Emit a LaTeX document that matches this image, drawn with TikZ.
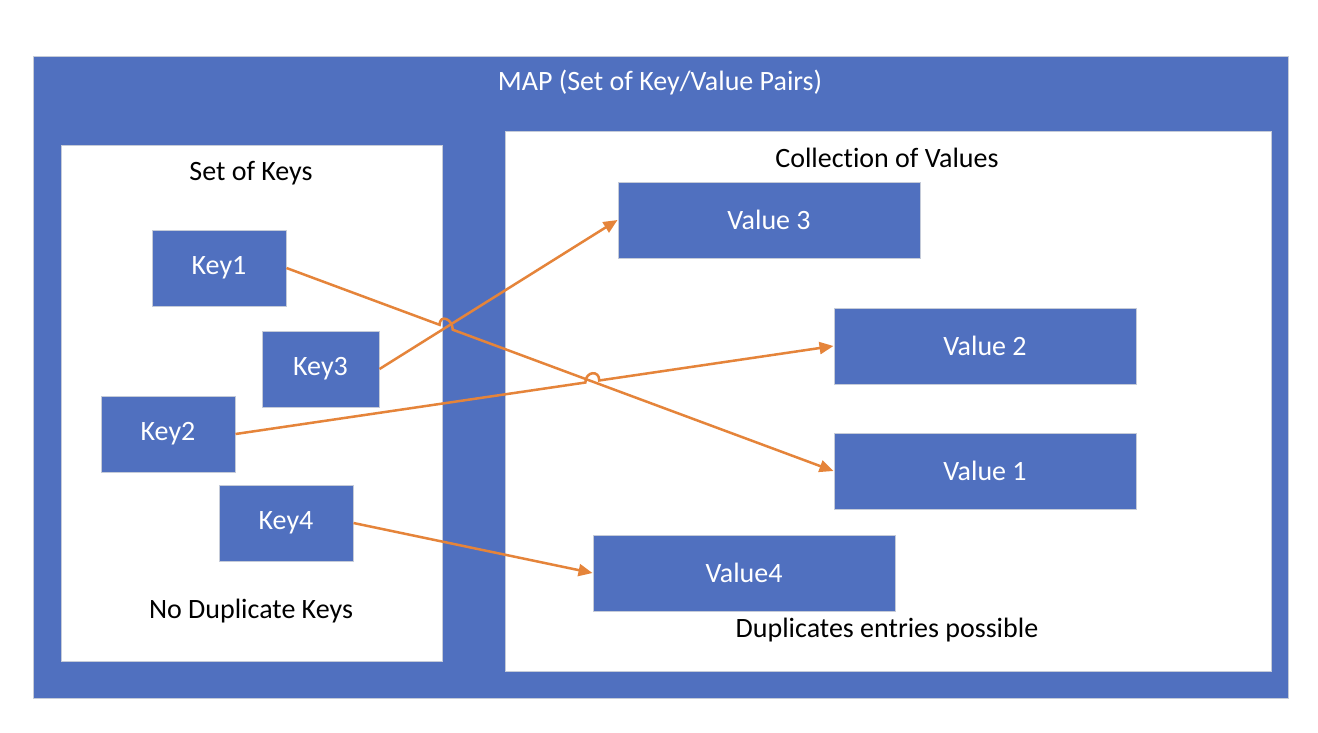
\documentclass[tikz,border=0pt]{standalone}
\usepackage{fontspec}
\setmainfont{Carlito}[Ligatures=NoCommon]
\usetikzlibrary{arrows.meta,calc,intersections}
\definecolor{mapblue}{HTML}{5070BF}
\definecolor{edgegray}{HTML}{C5CBD8}
\definecolor{arrorange}{HTML}{E5843A}
\tikzset{
  region/.style={draw=edgegray,line width=1pt},
  item/.style={draw=edgegray,line width=1pt,fill=mapblue,text=white,minimum height=76pt,inner sep=0pt,font=\fontsize{28}{32}\selectfont},
  keybox/.style={item,minimum width=134pt},
  valbox/.style={item,minimum width=302pt},
  lbl/.style={inner sep=0pt,font=\fontsize{28}{32}\selectfont},
  conn/.style={draw=arrorange,line width=2.5pt,-{Triangle[length=14pt,width=12pt]}},
}
\begin{document}
\begin{tikzpicture}[x=1pt,y=-1pt]
\useasboundingbox (0,0) rectangle (1318,732);
\fill[white] (0,0) rectangle (1318,732);
\draw[region,fill=mapblue] (33,56) rectangle (1288,698);
\draw[region,fill=white] (61,145) rectangle (442,661);
\draw[region,fill=white] (505,131) rectangle (1271,671);
\node[lbl,text=white] (title) at (660,83) {MAP (Set of Key/Value Pairs)};
\node[lbl] (setkeys) at (251,173) {Set of Keys};
\node[lbl] (collvals) at (887,158) {Collection of Values};
\node[lbl] (nodup) at (251,611) {No Duplicate Keys};
\node[lbl] (dupok) at (887,630) {Duplicates entries possible};
\node[keybox] (k1) at (219,268) {Key1};
\node[keybox,minimum width=117pt] (k3) at (320.5,369) {Key3};
\node[keybox] (k2) at (168,434) {Key2};
\node[keybox] (k4) at (286,523) {Key4};
\node[valbox] (v3) at (769,220) {Value 3};
\node[valbox] (v2) at (985,346) {Value 2};
\node[valbox] (v1) at (985,471) {Value 1};
\node[valbox] (v4) at (744,573) {Value4};
\path[name path=p1] (k1.east) -- (v1.west);
\path[name path=p3] (k3.east) -- (v3.west);
\path[name path=p2] (k2.east) -- (v2.west);
\path[name intersections={of=p1 and p3,by=x13}];
\path[name intersections={of=p1 and p2,by=x12}];
% Key3 -> Value3
\draw[conn] (k3.east) -- (v3.west);
% Key1 -> Value1 with hop over Key3 line
\draw[conn] (k1.east) -- ($(x13)!7pt!(k1.east)$)
  .. controls ($(x13)!7pt!(k1.east)+(0,-11)$) and ($(x13)!7pt!(v1.west)+(0,-11)$) .. ($(x13)!7pt!(v1.west)$)
  -- (v1.west);
% Key2 -> Value2 with hop over Key1 line
\draw[conn] (k2.east) -- ($(x12)!7pt!(k2.east)$)
  .. controls ($(x12)!7pt!(k2.east)+(0,-11)$) and ($(x12)!7pt!(v2.west)+(0,-11)$) .. ($(x12)!7pt!(v2.west)$)
  -- (v2.west);
\draw[conn] (k4.east) -- (v4.west);
\end{tikzpicture}
\end{document}
